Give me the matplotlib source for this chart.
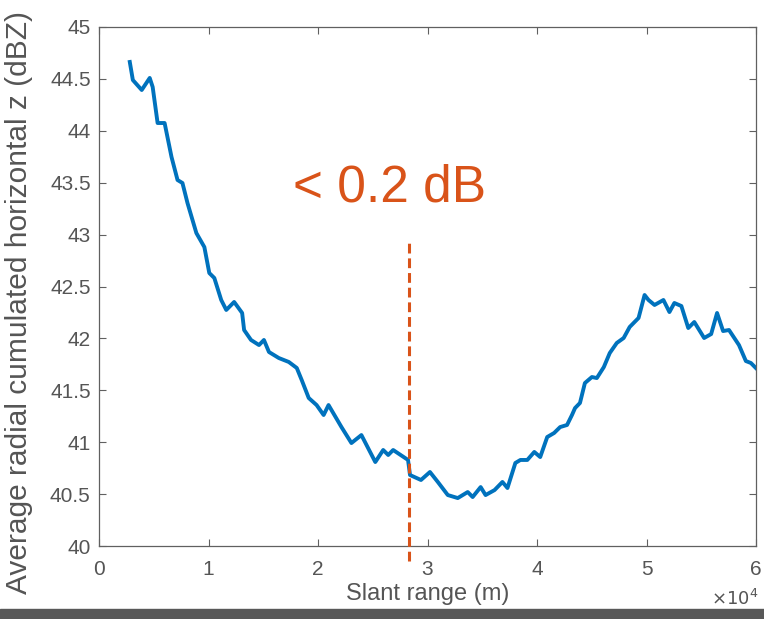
import numpy as np
import matplotlib.pyplot as plt
from matplotlib.patches import Rectangle

plt.rcParams['font.family'] = ['Liberation Sans', 'DejaVu Sans']

## 데이터 (slant range in 1e4 m, z in dBZ)
slant_range = [0.281, 0.309, 0.390, 0.463, 0.490, 0.535, 0.599, 0.662, 0.717, 0.762,
               0.808, 0.889, 0.962, 1.007, 1.053, 1.116, 1.162, 1.234, 1.307, 1.325,
               1.388, 1.461, 1.506, 1.552, 1.642, 1.733, 1.806, 1.851, 1.915, 1.987,
               2.051, 2.096, 2.214, 2.305, 2.396, 2.523, 2.595, 2.641, 2.686, 2.822,
               2.840, 2.940, 3.022, 3.094, 3.185, 3.276, 3.367, 3.412, 3.485, 3.530,
               3.612, 3.684, 3.730, 3.802, 3.848, 3.911, 3.975, 4.029, 4.093, 4.156,
               4.211, 4.274, 4.319, 4.347, 4.392, 4.437, 4.501, 4.546, 4.610, 4.664,
               4.728, 4.791, 4.846, 4.927, 4.982, 5.018, 5.073, 5.154, 5.209, 5.254,
               5.318, 5.381, 5.436, 5.526, 5.590, 5.644, 5.699, 5.753, 5.844, 5.907,
               5.953, 5.998]
z_avg = [44.663, 44.489, 44.393, 44.509, 44.422, 44.075, 44.075, 43.748, 43.526, 43.497,
         43.304, 43.015, 42.880, 42.630, 42.582, 42.370, 42.274, 42.351, 42.245, 42.081,
         41.985, 41.936, 41.985, 41.869, 41.811, 41.773, 41.715, 41.599, 41.426, 41.358,
         41.262, 41.358, 41.146, 40.992, 41.069, 40.809, 40.925, 40.877, 40.925, 40.829,
         40.684, 40.636, 40.713, 40.617, 40.491, 40.462, 40.520, 40.472, 40.568, 40.491,
         40.539, 40.617, 40.559, 40.800, 40.829, 40.829, 40.906, 40.857, 41.050, 41.089,
         41.146, 41.166, 41.262, 41.329, 41.378, 41.570, 41.628, 41.618, 41.724, 41.859,
         41.956, 42.004, 42.110, 42.197, 42.418, 42.370, 42.322, 42.370, 42.254, 42.341,
         42.312, 42.100, 42.158, 42.004, 42.042, 42.245, 42.071, 42.081, 41.936, 41.782,
         41.763, 41.715]
marker_x = 2.83
marker_top = 42.92
xticks = [0, 1, 2, 3, 4, 5, 6]
yticks = [40, 40.5, 41, 41.5, 42, 42.5, 43, 43.5, 44, 44.5, 45]

x = np.array(slant_range) * 1e4

fig = plt.figure(figsize=(7.64, 6.19), dpi=100)
ax = fig.add_axes([0.1296, 0.1179, 0.8600, 0.8385])

ax.plot(x, z_avg, color='#0072BD', linewidth=2.8, solid_joinstyle='round')
ax.plot([marker_x * 1e4, marker_x * 1e4], [39.86, marker_top], color='#D95319',
        linestyle=(0, (3.2, 1.6)), linewidth=2.2, clip_on=False, zorder=3)
ax.text(2.65e4, 43.45, '< 0.2 dB', color='#D95319', fontsize=37, ha='center', va='center')

ax.set_xlim(0, 6e4)
ax.set_ylim(40, 45)
ax.set_xticks([t * 1e4 for t in xticks])
ax.set_xticklabels([str(t) for t in xticks])
ax.set_yticks(yticks)
ax.set_yticklabels(['%g' % t for t in yticks])
ax.tick_params(direction='in', top=True, right=True, length=5, width=0.8,
               colors='#606060', labelsize=15, labelcolor='#555555', pad=6)
ax.tick_params(axis='x', pad=10)
for s in ax.spines.values():
    s.set_color('#606060')
    s.set_linewidth(0.9)

ax.set_xlabel('Slant range (m)', fontsize=17, color='#555555', labelpad=3)
ax.set_ylabel('Average radial cumulated horizontal z (dBZ)', fontsize=21.5, color='#555555')
ax.yaxis.set_label_coords(-0.1, 0.47)
fig.text(0.962, 0.033, r'$\times10^{4}$', fontsize=13, color='#555555', ha='center', va='center')

## 하단 회색 띠
fig.patches.append(Rectangle((0, 0), 1, 10 / 619, transform=fig.transFigure,
                             color='#585858', zorder=0))

fig.savefig('out.png', dpi=100)
